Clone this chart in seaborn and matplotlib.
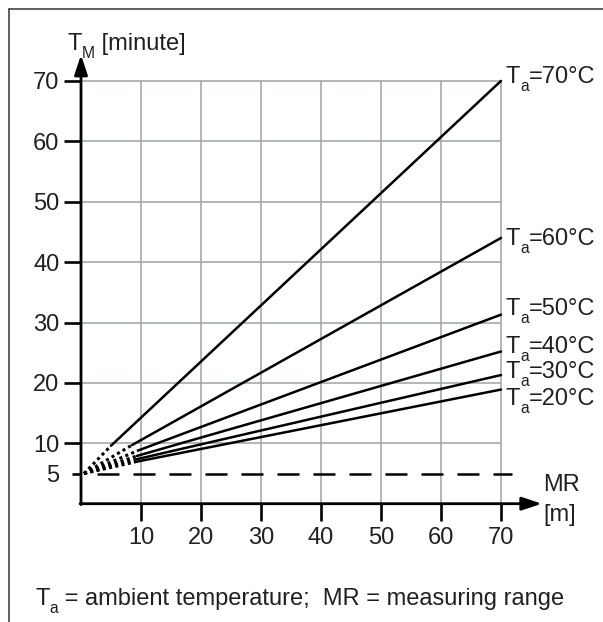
"""
Measuring time T_M vs. measuring range MR for several ambient temperatures.
"""

import matplotlib.pyplot as plt
import matplotlib.ticker as ticker
import pandas as pd
import seaborn as sns
from matplotlib.lines import Line2D

sns.set_theme(style="white")
plt.rcParams["font.family"] = ["Liberation Sans", "DejaVu Sans"]

TEXT = "#231f20"
GRID = "#9da3a6"
FS = 17

# Data
temps = [20, 30, 40, 50, 60, 70]
start_x = 0.5
start_y = 5.0
knee_x = [9.0, 9.0, 9.3, 9.5, 8.5, 5.0]
knee_y = [6.9, 7.3, 7.9, 8.8, 9.7, 9.6]
end_x = 70
end_y = [18.9, 21.3, 25.2, 31.3, 44.0, 70.0]
label_y = [16.3, 20.8, 24.95, 31.25, 42.8, 69.65]

threshold = 5
threshold_span = (2.6, 71.8)
x_ticks = [10, 20, 30, 40, 50, 60, 70]
y_ticks = [10, 20, 30, 40, 50, 60, 70]

# Long-form tables for the dotted and solid parts of each line
dotted = pd.DataFrame(
    [(t, start_x, start_y) for t in temps] + [(t, kx, ky) for t, kx, ky in zip(temps, knee_x, knee_y)],
    columns=["temp", "mr", "tm"],
)
solid = pd.DataFrame(
    [(t, kx, ky) for t, kx, ky in zip(temps, knee_x, knee_y)] + [(t, end_x, ey) for t, ey in zip(temps, end_y)],
    columns=["temp", "mr", "tm"],
)

fig = plt.figure(figsize=(6.03, 6.22), dpi=100)
ax = fig.add_axes([81 / 603, 118.3 / 622, 510 / 603, 483.2 / 622])
ax.set_xlim(0, 85)
ax.set_ylim(0, 80)
for s in ax.spines.values():
    s.set_visible(False)


def sub_text(x, y, main, sub, rest, transform, gap=0.5):
    """Text like T_a=..., with a low, small subscript."""
    base = ax.text(x, y, main, transform=transform, ha="left", va="baseline",
                   fontsize=FS, color=TEXT, clip_on=False)
    low = ax.annotate(sub, xy=(1, 0), xycoords=base, xytext=(0.3, -4.2),
                      textcoords="offset points", ha="left", va="bottom",
                      fontsize=FS * 0.66, color=TEXT, annotation_clip=False)
    ax.annotate(rest, xy=(1, 0), xycoords=(low, base), xytext=(gap, 0),
                textcoords="offset points", ha="left", va="bottom",
                fontsize=FS, color=TEXT, annotation_clip=False)


# Grid only inside the 0..70 box
ax.vlines(x_ticks, 0, 70, color=GRID, lw=1.1, zorder=1)
ax.hlines(y_ticks, 0, 70, color=GRID, lw=1.1, zorder=1)

# Threshold line
ax.hlines(threshold, *threshold_span, color="black", lw=1.8, linestyles=[(0, (8.8, 5.6))], zorder=2)

sns.lineplot(data=dotted, x="mr", y="tm", units="temp", estimator=None, color="black",
             lw=2.2, linestyle=(0, (1, 1.1)), ax=ax, zorder=3)
sns.lineplot(data=solid, x="mr", y="tm", units="temp", estimator=None, color="black",
             lw=1.8, ax=ax, zorder=3)

for t, ly in zip(temps, label_y):
    sub_text(70.7, ly, "T", "a", f"={t}°C", ax.transData)

# Axes with arrows
arrow = dict(arrowstyle="-|>,head_length=0.6,head_width=0.2", lw=2, color="black",
             mutation_scale=20, shrinkA=0, shrinkB=0)
ax.annotate("", xy=(0, 74.3), xytext=(0, -0.15), arrowprops=arrow, annotation_clip=False)
ax.annotate("", xy=(76.8, 0), xytext=(-0.15, 0), arrowprops=arrow, annotation_clip=False)

# Ticks
ax.set_xticks(x_ticks)
ax.set_yticks(y_ticks)
ax.yaxis.set_minor_locator(ticker.FixedLocator([threshold]))
ax.yaxis.set_minor_formatter(ticker.FixedFormatter([str(threshold)]))
ax.tick_params(axis="both", which="major", direction="out", length=12, width=1.9,
               color="black", labelsize=FS, labelcolor=TEXT)
ax.tick_params(axis="y", which="major", pad=3.5, left=True)
ax.tick_params(axis="x", which="major", pad=4.5, bottom=True)
ax.tick_params(axis="y", which="minor", direction="out", length=6.5, width=1.9, pad=9,
               left=True, color="black", labelsize=FS, labelcolor=TEXT)
ax.set_xlabel("")
ax.set_ylabel("")

ax.text(77, 0.6, "MR\n[m]", ha="left", va="center", fontsize=FS, color=TEXT,
        linespacing=1.45, clip_on=False)
sub_text(67 / 603, 1 - 50 / 622, "T", "M", " [minute]", fig.transFigure, gap=0)
sub_text(35 / 603, 1 - 605 / 622, "T", "a", " = ambient temperature;  MR = measuring range",
         fig.transFigure, gap=0)

# Frame
fig.add_artist(Line2D([9 / 603, 1], [1 - 9 / 622] * 2, color="#333333", lw=1.1))
fig.add_artist(Line2D([9 / 603] * 2, [1 - 9 / 622, 0], color="#333333", lw=1.1))

fig.savefig("out.png", dpi=100)
